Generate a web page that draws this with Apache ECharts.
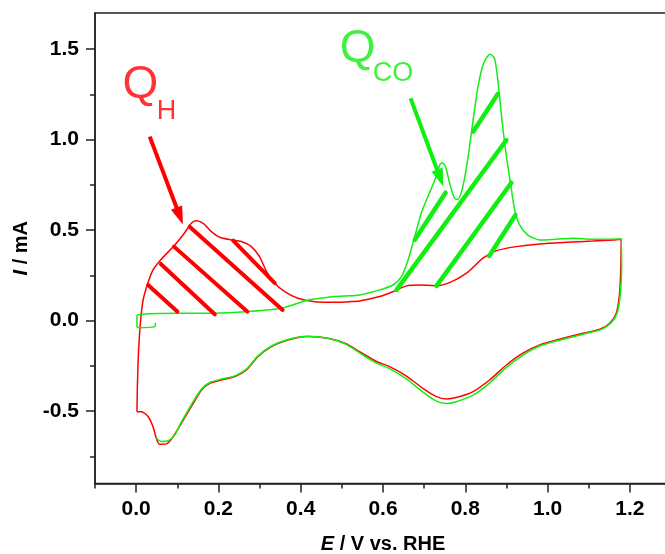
<!DOCTYPE html>
<html><head><meta charset="utf-8">
<script src="https://cdn.jsdelivr.net/npm/echarts@6/dist/echarts.min.js"></script>
<style>html,body{margin:0;padding:0;background:#fff}#c{width:665px;height:554px}</style>
</head><body><div id="c"></div>
<script>
// ---- axis ticks ----
const xMajorTicks = [0, 0.2, 0.4, 0.6, 0.8, 1.0, 1.2];
const xMinorTicks = [-0.1, 0.1, 0.3, 0.5, 0.7, 0.9, 1.1, 1.3];
const yMajorTicks = [-0.5, 0, 0.5, 1.0, 1.5];
const yMinorTicks = [-0.75, -0.25, 0.25, 0.75, 1.25];

// ---- blank CV (red): E / V, I / mA ----
const blankCV = [
 [0.002,-0.503],[0.003,-0.365],[0.006,-0.162],[0.011,0.004],[0.017,0.114],[0.027,0.197],[0.041,0.28],
 [0.061,0.339],[0.094,0.418],[0.117,0.483],[0.134,0.538],[0.146,0.552],[0.163,0.538],[0.183,0.492],
 [0.203,0.461],[0.232,0.446],[0.256,0.437],[0.28,0.409],[0.30,0.354],[0.317,0.271],[0.337,0.207],
 [0.361,0.16],[0.393,0.124],[0.434,0.105],[0.483,0.102],[0.52,0.105],[0.543,0.109],[0.592,0.133],
 [0.624,0.16],[0.657,0.192],[0.689,0.197],[0.730,0.193],[0.762,0.21],[0.803,0.262],[0.843,0.345],
 [0.876,0.387],[0.924,0.409],[0.981,0.424],[1.046,0.433],[1.110,0.44],[1.159,0.446],[1.179,0.45],
 [1.178,0.298],[1.175,0.151],[1.167,0.041],[1.151,-0.014],[1.127,-0.048],[1.086,-0.07],[1.029,-0.103],
 [0.981,-0.134],[0.940,-0.18],[0.900,-0.245],[0.859,-0.328],[0.819,-0.392],[0.778,-0.425],[0.754,-0.433],
 [0.730,-0.42],[0.697,-0.374],[0.657,-0.306],[0.616,-0.254],[0.584,-0.226],[0.543,-0.171],[0.507,-0.125],
 [0.466,-0.097],[0.418,-0.088],[0.369,-0.107],[0.329,-0.144],[0.296,-0.199],[0.268,-0.272],[0.240,-0.309],
 [0.207,-0.328],[0.179,-0.346],[0.159,-0.383],[0.134,-0.475],[0.110,-0.567],[0.090,-0.641],[0.074,-0.681],
 [0.057,-0.683],[0.049,-0.65],[0.041,-0.586],[0.029,-0.53],[0.013,-0.503],[0.002,-0.503]
];

// ---- CO stripping CV (green) ----
const coStrippingCV = [
 [0.047,-0.011],[0.045,-0.033],[0.009,-0.039],[0.002,-0.033],[0.002,0.026],[0.013,0.035],[0.102,0.041],
 [0.191,0.041],[0.272,0.05],[0.353,0.068],[0.418,0.114],[0.466,0.129],[0.507,0.136],[0.543,0.142],
 [0.592,0.17],[0.624,0.197],[0.645,0.243],[0.661,0.335],[0.677,0.464],[0.693,0.593],[0.709,0.685],
 [0.726,0.777],[0.738,0.86],[0.744,0.873],[0.752,0.851],[0.762,0.759],[0.774,0.676],[0.782,0.671],
 [0.794,0.74],[0.807,0.906],[0.819,1.109],[0.831,1.293],[0.843,1.413],[0.86,1.472],[0.871,1.45],
 [0.879,1.33],[0.890,1.091],[0.900,0.906],[0.910,0.759],[0.920,0.612],[0.932,0.529],[0.952,0.473],
 [0.981,0.446],[1.021,0.45],[1.062,0.455],[1.110,0.45],[1.179,0.452],
 [1.180,0.298],[1.177,0.151],[1.169,0.041],[1.153,-0.016],[1.127,-0.052],[1.086,-0.075],[1.029,-0.108],
 [0.981,-0.14],[0.940,-0.19],[0.900,-0.258],[0.859,-0.345],[0.819,-0.412],[0.778,-0.448],[0.754,-0.458],
 [0.730,-0.445],[0.697,-0.395],[0.657,-0.322],[0.616,-0.265],[0.584,-0.235],[0.543,-0.178],[0.507,-0.127],
 [0.466,-0.097],[0.418,-0.086],[0.369,-0.104],[0.329,-0.14],[0.296,-0.195],[0.268,-0.268],[0.240,-0.305],
 [0.207,-0.323],[0.179,-0.342],[0.159,-0.378],[0.134,-0.465],[0.110,-0.56],[0.094,-0.631],[0.078,-0.664],
 [0.061,-0.668],[0.049,-0.65]
];

// ---- hatching segments (data coords) ----
const hydrogenHatch = [
 [[0.029,0.197],[0.100,0.05]],
 [[0.060,0.313],[0.191,0.035]],
 [[0.092,0.409],[0.270,0.05]],
 [[0.130,0.519],[0.356,0.059]],
 [[0.236,0.442],[0.337,0.207]]
];
const coHatch = [
 [[0.677,0.446],[0.752,0.707]],
 [[0.633,0.17],[0.900,0.998]],
 [[0.730,0.192],[0.912,0.762]],
 [[0.858,0.357],[0.922,0.584]],
 [[0.819,1.044],[0.879,1.252]]
];

// ---- arrows (start, end) ----
const hydrogenArrow = [[0.033,1.017],[0.106,0.578]];
const coArrow = [[0.667,1.229],[0.739,0.788]];

// ---- annotation labels ----
const hydrogenLabelText = ['Q', 'H'];
const hydrogenLabelPos = [[-0.033,1.30],[0.050,1.156]];
const coLabelText = ['Q', 'CO'];
const coLabelPos = [[0.495,1.498],[0.575,1.368]];

const RED = '#ff0000';
const GREEN = '#11ee11';
const AXIS = '#222';
const FONT = '"Liberation Sans", Arial, sans-serif';

function segs(list) {
  return list.map(s => [{coord: s[0]}, {coord: s[1]}]);
}
function labelData(texts, pos, sizes) {
  return texts.map((t, i) => ({
    value: pos[i],
    label: {formatter: t, fontSize: sizes[i]}
  }));
}

const chart = echarts.init(document.getElementById('c'), null, {renderer: 'canvas'});
const labelStyle = {color: '#000', fontWeight: 'bold', fontSize: 21, fontFamily: FONT};
const nameStyle = {color: '#000', fontWeight: 'bold', fontSize: 20, fontFamily: FONT};

chart.setOption({
  animation: false,
  grid: {left: 95, top: 13, width: 576, height: 470.5, outerBoundsMode: 'none', containLabel: false,
         show: true, borderColor: AXIS, borderWidth: 1.5, backgroundColor: 'transparent'},
  xAxis: [{
    type: 'value', min: -0.1, max: 1.3, position: 'bottom',
    splitLine: {show: false},
    axisLine: {show: true, onZero: false, lineStyle: {color: AXIS, width: 1.5}},
    axisTick: {show: true, customValues: xMajorTicks, length: 9, lineStyle: {color: AXIS, width: 1.5}},
    axisLabel: {show: true, customValues: xMajorTicks, formatter: v => v.toFixed(1), margin: 15, ...labelStyle},
    name: '{i|E} / V vs. RHE', nameLocation: 'middle', nameGap: 51,
    nameTextStyle: {...nameStyle, rich: {i: {...nameStyle, fontStyle: 'italic'}}}
  }, {
    type: 'value', min: -0.1, max: 1.3, position: 'bottom',
    splitLine: {show: false},
    axisLine: {show: false, onZero: false},
    axisTick: {show: true, customValues: xMinorTicks, length: 5, lineStyle: {color: AXIS, width: 1.5}},
    axisLabel: {show: false}
  }],
  yAxis: [{
    type: 'value', min: -0.9, max: 1.7, position: 'left',
    splitLine: {show: false},
    axisLine: {show: true, onZero: false, lineStyle: {color: AXIS, width: 1.5}},
    axisTick: {show: true, customValues: yMajorTicks, length: 9, lineStyle: {color: AXIS, width: 1.5}},
    axisLabel: {show: true, customValues: yMajorTicks, formatter: v => v.toFixed(1), margin: 16, ...labelStyle},
    name: '{i|I} / mA', nameLocation: 'middle', nameGap: 62,
    nameTextStyle: {...nameStyle, rich: {i: {...nameStyle, fontStyle: 'italic'}}}
  }, {
    type: 'value', min: -0.9, max: 1.7, position: 'left',
    splitLine: {show: false},
    axisLine: {show: false, onZero: false},
    axisTick: {show: true, customValues: yMinorTicks, length: 5, lineStyle: {color: AXIS, width: 1.5}},
    axisLabel: {show: false}
  }],
  series: [
    {type: 'line', data: blankCV, showSymbol: false, smooth: 0.25, lineStyle: {color: RED, width: 1.5}, silent: true, z: 2},
    {type: 'line', data: coStrippingCV, showSymbol: false, smooth: 0.25, lineStyle: {color: GREEN, width: 1.5}, silent: true, z: 3},
    {type: 'line', data: [], silent: true, z: 4,
      markLine: {silent: true, symbol: ['none', 'none'], label: {show: false},
        lineStyle: {color: RED, width: 4, type: 'solid', cap: 'round'}, emphasis: {disabled: true},
        data: segs(hydrogenHatch)}},
    {type: 'line', data: [], silent: true, z: 4,
      markLine: {silent: true, symbol: ['none', 'none'], label: {show: false},
        lineStyle: {color: GREEN, width: 4.5, type: 'solid', cap: 'round'}, emphasis: {disabled: true},
        data: segs(coHatch)}},
    {type: 'line', data: [], silent: true, z: 5,
      markLine: {silent: true, symbol: ['none', 'triangle'], symbolSize: [12, 18], label: {show: false},
        lineStyle: {color: RED, width: 4, type: 'solid'}, itemStyle: {color: RED}, emphasis: {disabled: true},
        data: segs([hydrogenArrow])}},
    {type: 'line', data: [], silent: true, z: 5,
      markLine: {silent: true, symbol: ['none', 'triangle'], symbolSize: [12, 18], label: {show: false},
        lineStyle: {color: GREEN, width: 4, type: 'solid'}, itemStyle: {color: GREEN}, emphasis: {disabled: true},
        data: segs([coArrow])}},
    {type: 'scatter', silent: true, symbolSize: 0.1, itemStyle: {color: 'transparent'}, z: 6,
      label: {show: true, position: 'right', distance: 0, color: RED, fontFamily: FONT, verticalAlign: 'middle'},
      data: labelData(hydrogenLabelText, hydrogenLabelPos, [46, 27])},
    {type: 'scatter', silent: true, symbolSize: 0.1, itemStyle: {color: 'transparent'}, z: 6,
      label: {show: true, position: 'right', distance: 0, color: GREEN, fontFamily: FONT, verticalAlign: 'middle'},
      data: labelData(coLabelText, coLabelPos, [46, 27])}
  ]
});
</script></body></html>
